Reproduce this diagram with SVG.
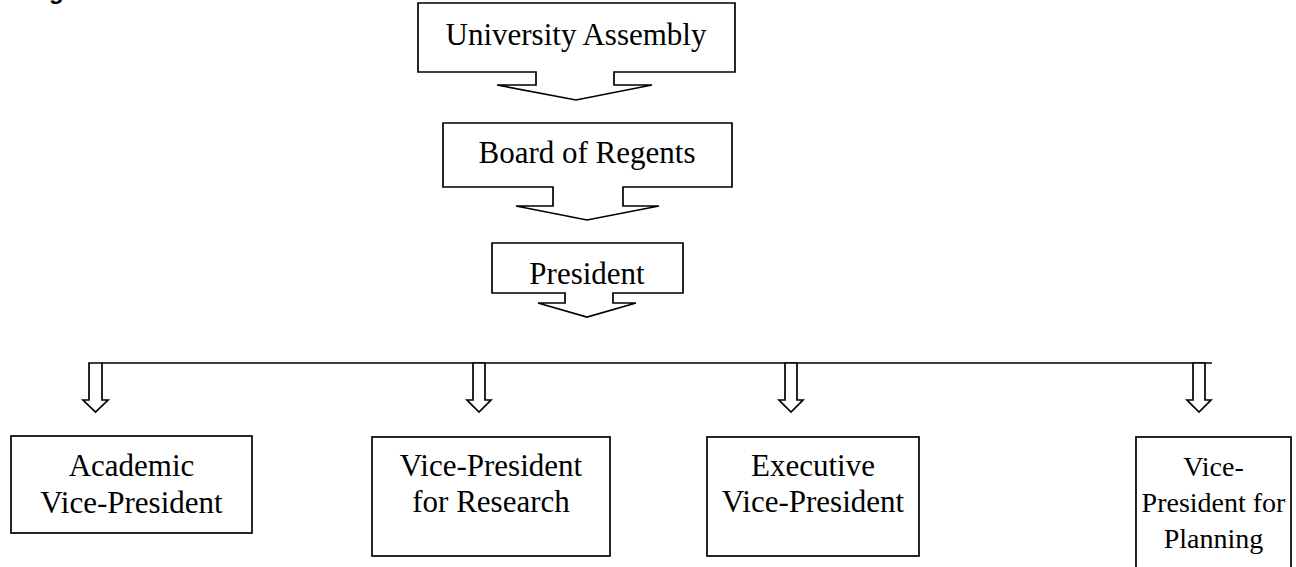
<svg xmlns="http://www.w3.org/2000/svg" width="1296" height="567" viewBox="0 0 1296 567">
<style>
.shape{fill:#fff;stroke:#000;stroke-width:1.7;stroke-linejoin:miter}
.t{font-family:"Liberation Serif","Times New Roman",serif;font-size:31px;fill:#000;text-anchor:middle}
.s{font-size:28px}
.line{stroke:#000;stroke-width:1.7;fill:none}
</style>
<rect width="1296" height="567" fill="#fff"/>
<text x="49" y="-1" style="font-family:'Liberation Sans',Arial,sans-serif;font-weight:bold;font-size:24px">g</text>
<g id="university-assembly">
<polygon class="shape" points="418,3 735,3 735,72 614,72 614,85 652,85 576,100 497,85 536,85 536,72 418,72"/>
<text class="t" x="576" y="45">University Assembly</text>
</g>
<g id="board-of-regents">
<polygon class="shape" points="443,123 732,123 732,187 623,187 623,206 659,206 587,220 516,206 553,206 553,187 443,187"/>
<text class="t" x="587" y="163">Board of Regents</text>
</g>
<g id="president">
<polygon class="shape" points="492,243 683,243 683,293 613,293 613,303 636,303 587,317 538,303 565,303 565,293 492,293"/>
<text class="t" x="587" y="284">President</text>
</g>
<g id="connectors">
<line class="line" x1="102" y1="363" x2="1212" y2="363"/>
<polygon class="shape" points="89,363 102,363 102,400 108,400 95.5,412 83,400 89,400"/>
<polygon class="shape" points="473,363 485,363 485,400 491,400 479,412 467,400 473,400"/>
<polygon class="shape" points="785,363 797,363 797,400 803,400 791,412 779,400 785,400"/>
<polygon class="shape" points="1193,363 1205,363 1205,400 1211,400 1199,412 1187,400 1193,400"/>
</g>
<g id="academic-vp">
<rect class="shape" x="11" y="436" width="241" height="97"/>
<text class="t" x="131.5" y="476">Academic</text>
<text class="t" x="131.5" y="513">Vice-President</text>
</g>
<g id="vp-research">
<rect class="shape" x="372" y="437" width="238" height="119"/>
<text class="t" x="491" y="476">Vice-President</text>
<text class="t" x="491" y="512">for Research</text>
</g>
<g id="executive-vp">
<rect class="shape" x="707" y="437" width="212" height="119"/>
<text class="t" x="813" y="476">Executive</text>
<text class="t" x="813" y="512">Vice-President</text>
</g>
<g id="vp-planning">
<rect class="shape" x="1136" y="437" width="155" height="140"/>
<text class="t s" x="1213.5" y="476">Vice-</text>
<text class="t s" x="1213.5" y="512">President for</text>
<text class="t s" x="1213.5" y="548">Planning</text>
</g>
</svg>
